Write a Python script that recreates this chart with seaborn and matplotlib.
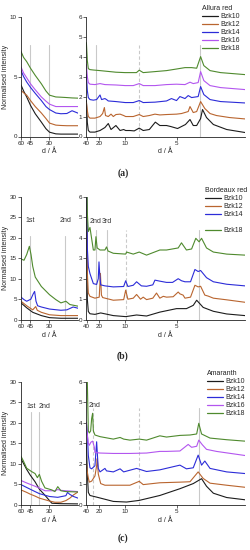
from pathlib import Path

import matplotlib
matplotlib.use("Agg")
import matplotlib.pyplot as plt
from matplotlib.lines import Line2D
import pandas as pd
import seaborn as sns


OUT = Path("out.png")
W, H = 251, 550

SAMPLES = ["Bzk10", "Bzk12", "Bzk14", "Bzk16", "Bzk18"]
COLORS = {
    "Bzk10": "#1c1c1c",
    "Bzk12": "#b9652f",
    "Bzk14": "#2c2cd8",
    "Bzk16": "#b356ef",
    "Bzk18": "#4f8a2e",
}
DYES = ["Allura red", "Bordeaux red", "Amaranth"]
CAPTIONS = ["(a)", "(b)", "(c)"]

# ---------------- (a) Allura red ----------------
A_LO_D = [60, 55, 50, 45, 40, 35, 32, 30, 27, 25, 23, 21.5, 20]
A_LO_10 = [4.3, 3.8, 3.3, 2.6, 1.9, 1.2, 0.65, 0.36, 0.22, 0.2, 0.2, 0.2, 0.2]
A_LO_12 = [3.85, 3.65, 3.45, 3.0, 2.5, 1.96, 1.5, 1.12, 0.95, 0.92, 0.9, 0.9, 0.9]
A_LO_14 = [5.5, 5.0, 4.55, 4.1, 3.6, 3.0, 2.5, 2.25, 1.96, 1.9, 1.92, 2.15, 1.95]
A_LO_16 = [5.8, 5.3, 4.9, 4.4, 3.9, 3.3, 2.95, 2.7, 2.5, 2.5, 2.5, 2.5, 2.5]
A_LO_18 = [7.1, 6.6, 6.25, 5.7, 5.1, 4.4, 3.8, 3.45, 3.3, 3.28, 3.25, 3.22, 3.2]

A_HI_10_D = [40.8, 38, 35.4, 31.8, 24.3, 19.6, 16.5, 14.9, 13.8, 12.2, 11.1, 10.3, 9.9, 9.15,
             8.5, 7.85, 7.4, 6.8, 6.3, 5.97, 5.54, 5.3, 4.95, 4.6, 4.42, 4.3, 4.18, 4.05,
             3.99, 3.87, 3.68, 3.36, 3.0]
A_HI_10_I = [1.8, 0.7, 0.3, 0.22, 0.22, 0.3, 0.45, 0.65, 0.35, 0.55, 0.3, 0.35, 0.3, 0.3,
             0.28, 0.42, 0.3, 0.35, 0.72, 0.55, 0.55, 0.5, 0.4, 0.6, 0.85, 0.55, 0.55, 0.9,
             1.35, 0.95, 0.6, 0.35, 0.2]
A_HI_12_D = [40.8, 38, 35.4, 31.8, 24.3, 19.6, 17.8, 16.8, 16.2, 14.9, 13.8, 13.0, 12.2, 11.1,
             10.3, 9.9, 8.64, 7.85, 7.4, 6.8, 6.33, 5.97, 5.54, 5.0, 4.77, 4.49, 4.42, 4.3,
             4.18, 4.05, 3.92, 3.77, 3.6, 3.3, 3.0]
A_HI_12_I = [1.7, 1.3, 1.0, 0.92, 0.92, 1.0, 1.15, 1.45, 1.05, 1.0, 1.12, 1.0, 1.1, 1.12,
             1.05, 1.0, 1.0, 1.1, 1.0, 1.05, 1.12, 1.08, 1.1, 1.12, 1.15, 1.25, 1.5, 1.2,
             1.25, 1.75, 1.4, 1.15, 1.05, 0.95, 0.88]
A_HI_14_D = [40.8, 38, 35.4, 31.8, 26.3, 22.5, 19.6, 18.5, 16.5, 15.7, 14.9, 12.2, 10, 8.64,
             7.85, 7.4, 6.33, 5.54, 5.26, 5.0, 4.84, 4.62, 4.49, 4.36, 4.13, 4.05, 3.95, 3.77,
             3.5, 3.0]
A_HI_14_I = [3.1, 2.3, 1.95, 1.85, 1.82, 1.85, 2.08, 1.85, 1.9, 1.85, 1.78, 1.75, 1.7, 1.7,
             1.8, 1.7, 1.72, 1.78, 1.9, 1.8, 2.0, 1.9, 2.05, 1.95, 2.0, 2.5, 2.1, 1.85,
             1.75, 1.68]
A_HI_16_D = [40.8, 38, 35.4, 31.8, 24.3, 19.6, 16.5, 12.2, 10, 8.64, 7.85, 7.4, 6.33, 5.54,
             5.0, 4.62, 4.42, 4.3, 4.13, 4.05, 3.95, 3.77, 3.5, 3.0]
A_HI_16_I = [3.6, 3.0, 2.7, 2.62, 2.6, 2.65, 2.6, 2.58, 2.55, 2.55, 2.65, 2.55, 2.55, 2.6,
             2.62, 2.6, 2.72, 2.65, 2.7, 3.25, 2.8, 2.55, 2.45, 2.35]
A_HI_18_D = [40.8, 38, 35.4, 31.8, 26.3, 19.6, 12.2, 10, 8.2, 7.85, 7.4, 6.33, 5.54, 5.0,
             4.62, 4.36, 4.18, 4.05, 3.95, 3.77, 3.5, 3.0]
A_HI_18_I = [4.7, 3.8, 3.4, 3.35, 3.33, 3.3, 3.22, 3.2, 3.2, 3.32, 3.2, 3.25, 3.3, 3.38,
             3.45, 3.45, 3.42, 4.0, 3.55, 3.3, 3.2, 3.1]

A_LO_MARKS = [45, 30]
A_HI_MARKS = [23.2, 7.85, 4.06]

# ---------------- (b) Bordeaux red ----------------
B_LO_10_D = [60, 50, 42.5, 35, 30, 25, 20]
B_LO_10_I = [4.1, 2.9, 1.8, 1.0, 0.5, 0.35, 0.35]
B_LO_12_D = [60, 50, 42.5, 39.6, 38.2, 35, 30, 25, 20]
B_LO_12_I = [4.5, 3.4, 2.4, 3.2, 2.3, 1.8, 1.2, 1.0, 1.0]
B_LO_14_D = [60, 54.3, 50, 44.6, 42, 40.6, 39.3, 37.9, 35, 30, 25, 23, 21.2, 20]
B_LO_14_I = [5.5, 4.9, 4.5, 5.0, 6.3, 6.9, 4.5, 3.4, 3.1, 2.6, 2.3, 2.4, 3.1, 2.8]
B_LO_18_D = [60, 54.3, 50, 46.4, 44.4, 42.5, 40, 35, 30, 27, 25, 23.3, 22.1, 20]
B_LO_18_I = [14.8, 14.5, 15.9, 17.9, 15.9, 13.0, 10.4, 8.1, 6.1, 4.9, 4.1, 4.5, 3.7, 3.3]

B_HI_10_D = [40.8, 38, 35.4, 31.8, 24.3, 19.1, 13, 9.9, 8.18, 7.06, 5.97, 5.0, 4.56, 4.3,
             4.18, 3.97, 3.68, 3.36, 3.0]
B_HI_10_I = [8.0, 1.0, 0.4, 0.29, 0.26, 0.33, 0.2, 0.15, 0.23, 0.18, 0.37, 0.54, 0.54, 0.7,
             0.95, 0.6, 0.41, 0.28, 0.2]
B_HI_12_D = [40.8, 38, 35.4, 31.8, 24.3, 20.2, 19.3, 18.6, 17.8, 13, 10.3, 9.9, 9.5, 8.64,
             8.18, 7.7, 7.4, 7.06, 6.5, 6.21, 5.97, 5.74, 5.54, 5.17, 4.92, 4.84, 4.7, 4.62,
             4.4, 4.24, 4.13, 4.05, 3.92, 3.82, 3.68, 3.36, 3.0]
B_HI_12_I = [8.0, 2.3, 1.3, 1.14, 1.05, 1.1, 2.26, 1.2, 1.08, 0.95, 0.98, 1.44, 1.0, 1.05,
             1.23, 1.0, 1.1, 0.98, 1.05, 1.3, 1.05, 1.14, 1.1, 1.12, 1.35, 1.26, 1.2, 1.05,
             1.1, 1.68, 1.6, 1.63, 1.2, 1.15, 1.05, 0.97, 0.85]
B_HI_14_D = [40.8, 38, 35.4, 31.8, 26.3, 22.5, 21.0, 20.4, 19.8, 19.1, 16.5, 13, 10.3, 9.9,
             9.5, 8.64, 8.18, 7.6, 7.06, 6.5, 6.33, 5.97, 5.54, 5.2, 4.92, 4.77, 4.62, 4.4,
             4.24, 4.13, 4.05, 3.87, 3.68, 3.36, 3.0]
B_HI_14_I = [8.0, 3.5, 2.6, 2.25, 1.76, 1.72, 2.0, 2.82, 2.2, 1.7, 1.65, 1.6, 1.62, 1.9,
             1.62, 1.68, 1.85, 1.65, 1.63, 1.7, 1.93, 1.88, 1.82, 1.82, 2.0, 1.9, 1.85, 1.85,
             2.45, 2.35, 2.4, 2.05, 1.85, 1.73, 1.65]
B_HI_18_D = [40.8, 38, 35.4, 31.8, 26.3, 24.3, 23.2, 22.0, 19.6, 16.5, 15.7, 15.0, 13, 9.9,
             9.73, 8.64, 7.85, 7.06, 5.97, 5.54, 4.92, 4.77, 4.56, 4.36, 4.21, 4.10, 4.02,
             3.87, 3.68, 3.36, 3.0]
B_HI_18_I = [8.0, 5.2, 4.3, 4.5, 3.4, 3.4, 4.05, 3.5, 3.4, 3.4, 3.55, 3.35, 3.24, 3.2,
             3.3, 3.2, 3.3, 3.15, 3.4, 3.4, 3.5, 3.75, 3.4, 3.45, 3.97, 3.8, 3.97,
             3.5, 3.3, 3.2, 3.15]

B_LO_MARKS = [45, 23.5]
B_LO_LABELS = ["1st", "2nd"]
B_HI_MARKS = [23.5, 15.6, 9.9, 4.1]
B_HI_LABELS = ["2nd", "3rd"]

# ---------------- (c) Amaranth ----------------
C_LO_10_D = [60, 50, 45.6, 40.2, 36.5, 32.6, 30, 28.8, 25, 20]
C_LO_10_I = [11.2, 8.6, 7.3, 5.6, 3.8, 2.3, 1.0, 0.35, 0.25, 0.2]
C_LO_12_D = [60, 50, 45.6, 40.2, 36.5, 30, 27.4, 25, 23.3, 22.1, 21.1, 20]
C_LO_12_I = [3.6, 3.0, 2.6, 2.1, 1.6, 0.9, 0.6, 0.6, 1.0, 1.6, 2.4, 3.1]
C_LO_14_D = [60, 50, 45.6, 40.2, 36.5, 30, 26.2, 23.3, 22.8, 22.1, 21.1, 20]
C_LO_14_I = [4.9, 4.2, 3.8, 3.2, 2.7, 2.0, 1.8, 2.2, 3.0, 2.5, 2.0, 1.6]
C_LO_16_D = [60, 50, 40.2, 34.8, 32.6, 27.4, 26.2, 25, 23.3, 20]
C_LO_16_I = [5.9, 5.3, 4.5, 3.8, 3.4, 3.4, 3.7, 3.5, 3.4, 3.2]
C_LO_18_D = [60, 55.5, 50, 43.9, 40.2, 38.1, 36.5, 34.8, 32.6, 28.8, 27.4, 26.2, 25,
             23.3, 20]
C_LO_18_I = [11.8, 10.7, 8.9, 8.1, 7.6, 6.6, 7.4, 5.7, 4.1, 3.6, 3.2, 4.4, 3.4,
             3.2, 3.1]

C_HI_10_D = [40.8, 38, 35.4, 31.8, 22.5, 13, 9.73, 7.85, 5.97, 4.84, 4.3, 4.02, 3.87,
             3.68, 3.36, 3.0]
C_HI_10_I = [3.0, 1.5, 0.6, 0.45, 0.37, 0.16, 0.13, 0.21, 0.45, 0.78, 1.03, 1.27, 0.9,
             0.56, 0.35, 0.24]
C_HI_12_D = [40.8, 38, 35.4, 33.1, 28.8, 24.3, 22.5, 21.9, 21.0, 19.1, 16.5, 9.15, 7.85,
             7.4, 5.97, 4.84, 4.42, 4.13, 3.97, 3.77, 3.36, 3.0]
C_HI_12_I = [2.0, 1.6, 1.3, 1.1, 1.15, 1.4, 1.9, 2.25, 1.5, 1.03, 0.95, 0.95, 1.14,
             0.98, 1.07, 1.1, 1.12, 1.6, 1.28, 1.05, 0.95, 0.85]
C_HI_14_D = [40.8, 38, 35.4, 31.8, 28.8, 24.3, 22.5, 21.5, 21.0, 19.6, 16.5, 15.7, 13.0,
             11.1, 10.3, 8.18, 7.06, 5.97, 4.84, 4.56, 4.30, 4.13, 4.02, 3.92, 3.77, 3.36,
             3.0]
C_HI_14_I = [4.0, 3.5, 2.4, 1.8, 1.75, 1.9, 3.07, 2.2, 1.77, 1.6, 1.77, 1.65, 1.6,
             1.75, 1.6, 1.77, 1.62, 1.7, 1.93, 1.75, 1.8, 2.42, 1.93, 2.13, 1.77, 1.6,
             1.52]
C_HI_16_D = [40.8, 38, 35.4, 33.1, 30, 27.3, 25, 24.3, 19.6, 13, 9.15, 7.06, 5.97, 5.54,
             4.84, 4.49, 4.36, 4.18, 4.11, 4.0, 3.87, 3.6, 3.0]
C_HI_16_I = [4.0, 3.4, 3.0, 2.9, 3.05, 3.1, 2.8, 2.55, 2.52, 2.5, 2.5, 2.52, 2.6, 2.6,
             2.62, 2.94, 2.8, 2.85, 3.15, 2.93, 2.7, 2.6, 2.4]
C_HI_18_D = [40.8, 38, 35.4, 33.1, 30.5, 28.8, 27.3, 26.3, 24.3, 19.6, 13, 11.1, 10.3,
             9.15, 7.85, 7.06, 5.97, 5.54, 4.84, 4.42, 4.18, 4.11, 4.02, 3.77, 3.36, 3.0]
C_HI_18_I = [9.0, 6.0, 3.6, 3.5, 3.6, 4.2, 4.46, 3.6, 3.4, 3.32, 3.2, 3.28, 3.2,
             3.15, 3.2, 3.15, 3.36, 3.3, 3.38, 3.4, 3.45, 3.97, 3.45, 3.25, 3.17, 3.1]

C_LO_MARKS = [44.5, 36.5]
C_LO_LABELS = ["1st", "2nd"]
C_HI_MARKS = [27.3, 7.85, 4.1]
C_HI_LABELS = ["2nd"]


def build_frame() -> pd.DataFrame:
    series = [
        ("a", "lo", "Bzk10", A_LO_D, A_LO_10),
        ("a", "lo", "Bzk12", A_LO_D, A_LO_12),
        ("a", "lo", "Bzk14", A_LO_D, A_LO_14),
        ("a", "lo", "Bzk16", A_LO_D, A_LO_16),
        ("a", "lo", "Bzk18", A_LO_D, A_LO_18),
        ("a", "hi", "Bzk10", A_HI_10_D, A_HI_10_I),
        ("a", "hi", "Bzk12", A_HI_12_D, A_HI_12_I),
        ("a", "hi", "Bzk14", A_HI_14_D, A_HI_14_I),
        ("a", "hi", "Bzk16", A_HI_16_D, A_HI_16_I),
        ("a", "hi", "Bzk18", A_HI_18_D, A_HI_18_I),
        ("b", "lo", "Bzk10", B_LO_10_D, B_LO_10_I),
        ("b", "lo", "Bzk12", B_LO_12_D, B_LO_12_I),
        ("b", "lo", "Bzk14", B_LO_14_D, B_LO_14_I),
        ("b", "lo", "Bzk18", B_LO_18_D, B_LO_18_I),
        ("b", "hi", "Bzk10", B_HI_10_D, B_HI_10_I),
        ("b", "hi", "Bzk12", B_HI_12_D, B_HI_12_I),
        ("b", "hi", "Bzk14", B_HI_14_D, B_HI_14_I),
        ("b", "hi", "Bzk18", B_HI_18_D, B_HI_18_I),
        ("c", "lo", "Bzk10", C_LO_10_D, C_LO_10_I),
        ("c", "lo", "Bzk12", C_LO_12_D, C_LO_12_I),
        ("c", "lo", "Bzk14", C_LO_14_D, C_LO_14_I),
        ("c", "lo", "Bzk16", C_LO_16_D, C_LO_16_I),
        ("c", "lo", "Bzk18", C_LO_18_D, C_LO_18_I),
        ("c", "hi", "Bzk10", C_HI_10_D, C_HI_10_I),
        ("c", "hi", "Bzk12", C_HI_12_D, C_HI_12_I),
        ("c", "hi", "Bzk14", C_HI_14_D, C_HI_14_I),
        ("c", "hi", "Bzk16", C_HI_16_D, C_HI_16_I),
        ("c", "hi", "Bzk18", C_HI_18_D, C_HI_18_I),
    ]
    frames = []
    for panel, side, sample, d, inten in series:
        frames.append(pd.DataFrame({"panel": panel, "side": side, "sample": sample,
                                    "d": d, "intensity": inten}))
    df = pd.concat(frames, ignore_index=True)
    df["q"] = 1.0 / df["d"]
    return df


def px_axes(fig, left, top, width, height):
    return fig.add_axes([left / W, 1 - (top + height) / H, width / W, height / H])


def style_axes(ax, ticks_d, ylim, yticks):
    ax.set_xticks([1.0 / t for t in ticks_d])
    ax.set_xticklabels([str(t) for t in ticks_d])
    ax.set_ylim(*ylim)
    ax.set_yticks(yticks)
    ax.set_xlabel("d / Å", fontsize=5, labelpad=2)
    ax.set_ylabel("")
    ax.tick_params(axis="both", labelsize=4.5, length=2, width=0.5, pad=1, direction="out")
    for spine in ("left", "bottom"):
        ax.spines[spine].set_linewidth(0.6)
        ax.spines[spine].set_color("#222222")
    sns.despine(ax=ax)


def draw_lines(ax, sub):
    present = [s for s in SAMPLES if s in set(sub["sample"])]
    sns.lineplot(data=sub, x="q", y="intensity", hue="sample", hue_order=present,
                 palette={s: COLORS[s] for s in present}, estimator=None, errorbar=None,
                 linewidth=0.8, legend=False, ax=ax)


def vmarks(ax, marks, top, dashed=()):
    for d in marks:
        ls = (0, (3, 2)) if d in dashed else "-"
        ax.plot([1.0 / d, 1.0 / d], [0, top], color="#c9c9c9", linewidth=0.8,
                linestyle=ls, zorder=0)


def main() -> None:
    sns.set_theme(style="ticks")
    plt.rcParams["font.family"] = ["Liberation Sans", "DejaVu Sans"]
    df = build_frame()

    fig = plt.figure(figsize=(W / 100, H / 100), dpi=100)
    fig.patch.set_facecolor("white")

    tops = {"a": 16.7, "b": 196.7, "c": 381.7}
    heights = {"a": 119.8, "b": 123.0, "c": 123.0}
    lo_ylims = {"a": ((0, 10), [0, 5, 10]), "b": ((0, 30), list(range(0, 31, 5))),
                "c": ((0, 30), list(range(0, 31, 5)))}
    legend_pos = {"a": (199, 1.5), "b": (202, 183.5), "c": (204, 366.5)}
    caption_y = {"a": 173, "b": 356, "c": 538}

    for i, panel in enumerate(["a", "b", "c"]):
        top, h = tops[panel], heights[panel]
        ax_lo = px_axes(fig, 21, top, 57, h)
        ax_hi = px_axes(fig, 86.4, top, 158.6, h)

        lo = df[(df["panel"] == panel) & (df["side"] == "lo")]
        hi = df[(df["panel"] == panel) & (df["side"] == "hi")]
        draw_lines(ax_lo, lo)
        draw_lines(ax_hi, hi)

        ylim, yt = lo_ylims[panel]
        style_axes(ax_lo, [60, 45, 30], ylim, yt)
        ax_lo.set_xlim(1 / 60, 1 / 20)
        ax_lo.set_ylabel("Normalised intensity", fontsize=5, labelpad=0.5)
        style_axes(ax_hi, [40, 20, 10, 5], (0, 6), list(range(7)))
        ax_hi.set_xlim(1 / 40.8, 1 / 3.0)

        if panel == "a":
            vmarks(ax_lo, A_LO_MARKS, 7.6)
            vmarks(ax_hi, A_HI_MARKS, 4.6, dashed=(7.85,))
        elif panel == "b":
            vmarks(ax_lo, B_LO_MARKS, 20.3)
            for d, lab in zip(B_LO_MARKS, B_LO_LABELS):
                ax_lo.text(1 / d, 24.1, lab, fontsize=5, ha="center", va="center",
                           color="#333333")
            vmarks(ax_hi, B_HI_MARKS, 4.4, dashed=(9.9,))
            for d, lab in zip(B_HI_MARKS[:2], B_HI_LABELS):
                ax_hi.text(1 / d, 4.78, lab, fontsize=5, ha="center", va="center",
                           color="#333333")
        else:
            vmarks(ax_lo, C_LO_MARKS, 22.7)
            ax_lo.text(1 / C_LO_MARKS[0], 23.9, C_LO_LABELS[0], fontsize=5, ha="center",
                       va="center", color="#333333")
            ax_lo.text(1 / C_LO_MARKS[1] - 0.0006, 23.9, C_LO_LABELS[1], fontsize=5,
                       ha="left", va="center", color="#333333")
            vmarks(ax_hi, C_HI_MARKS, 4.7, dashed=(27.3, 7.85))
            ax_hi.text(1 / 24.3, 4.83, C_HI_LABELS[0], fontsize=5, ha="center",
                       va="center", color="#333333")

        present = [s for s in SAMPLES if s in set(hi["sample"])]
        handles = []
        for s in SAMPLES:
            if s in present:
                handles.append(Line2D([], [], color=COLORS[s], linewidth=0.9, label=s))
            elif panel == "b":
                handles.append(Line2D([], [], color="none", label=" "))
        lx, ly = legend_pos[panel]
        leg = ax_hi.legend(handles=handles, title=DYES[i], loc="upper left",
                           bbox_to_anchor=(lx / W, 1 - ly / H), bbox_transform=fig.transFigure,
                           frameon=False, fontsize=5, title_fontsize=5, borderpad=0,
                           handlelength=2.2, handletextpad=0.4, labelspacing=0.15,
                           alignment="left")
        leg.get_title().set_color("#222222")

        fig.text(123 / W, 1 - caption_y[panel] / H, CAPTIONS[i], ha="center", va="center",
                 fontsize=7, fontweight="bold", family="Liberation Serif")

    fig.savefig(OUT, dpi=100, facecolor="white")
    plt.close(fig)


if __name__ == "__main__":
    main()
